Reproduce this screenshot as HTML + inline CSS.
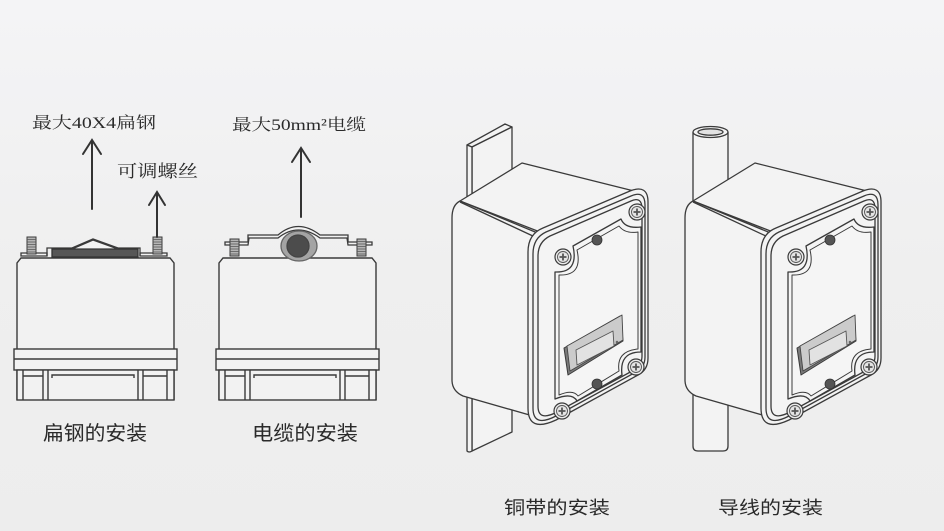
<!DOCTYPE html>
<html><head><meta charset="utf-8"><style>
html,body{margin:0;padding:0;}
body{width:944px;height:531px;overflow:hidden;background:#f0f0f0;}
svg{display:block;}
</style></head><body>
<svg width="944" height="531" viewBox="0 0 944 531" xmlns="http://www.w3.org/2000/svg">
<defs>
<linearGradient id="bg" x1="0" y1="0" x2="0" y2="1">
<stop offset="0" stop-color="#f4f4f6"/><stop offset="0.5" stop-color="#efefef"/><stop offset="1" stop-color="#ededed"/>
</linearGradient>
<g id="devbody" fill="none" stroke="#3a3a3a" stroke-width="1.4">
<path d="M17,400 V263 L21,258 H170 L174,263 V400" fill="#f2f2f2"/>
<rect x="14" y="349" width="163" height="21" fill="#f2f2f2"/>
<line x1="14" y1="359" x2="177" y2="359"/>
<rect x="17" y="370" width="157" height="30" fill="#f2f2f2"/>
<path d="M23,370 V400 M43,370 V400 M48,370 V400 M138,370 V400 M143,370 V400 M167,370 V400"/>
<path d="M23,376 H43 M143,376 H167"/>
<path d="M52,378 V375 H134 V378"/>
</g>
<g id="screwV">
<rect x="0" y="0" width="9" height="17" fill="#b5b5b5" stroke="#3a3a3a" stroke-width="1"/>
<path d="M0,2.5 H9 M0,5 H9 M0,7.5 H9 M0,10 H9 M0,12.5 H9 M0,15 H9" stroke="#555" stroke-width="0.8"/>
</g>
<g id="sc">
<circle r="8" fill="#ececec" stroke="#3a3a3a" stroke-width="1.2"/>
<circle r="5.5" fill="#e4e4e4" stroke="#555" stroke-width="0.9"/>
<path d="M-3.5,0 H3.5 M0,-3.5 V3.5" stroke="#555" stroke-width="1.8"/>
</g>
<g id="bx" stroke="#3a3a3a" stroke-width="1.3" stroke-linejoin="round">
<path d="M460,201 L522,163 L634,191 L540,232 Z" fill="#f3f3f3"/>
<path d="M460,201 Q452,205 452,218 V380 Q452,391 463,396 L540,418 L540,234 Z" fill="#f3f3f3"/>
<line x1="460" y1="202" x2="535" y2="237"/>
<path d="M528,252 Q528,234 543,228 L630,191 Q648,184 648,202 V358 Q648,370 638,375 L556,420 Q528,433 528,408 Z" fill="#f3f3f3"/>
<path d="M533,254 Q533,238 546,232 L631,196 Q645,190 645,205 V357 Q645,367 636,372 L556,416 Q533,428 533,408 Z" fill="#f3f3f3"/>
<path d="M538,256 Q538,242 550,236 L631,201 Q642,196 642,209 V356 Q642,365 634,370 L557,412 Q538,422 538,406 Z" fill="#f4f4f4"/>
<path d="M555,272 Q579,273 573,246 L621,219 Q625,229 641,227 L641,352 Q619,352 622,375 L577,401 Q572,392 555,399 Z" fill="#f5f5f5"/>
<path d="M559,275 Q583,276 577,250 L619,226 Q625,234 638,232 L638,349 Q616,351 619,371 L578,396 Q573,389 559,395 Z" fill="none" stroke-width="1"/>
<circle cx="597" cy="240" r="5" fill="#555" stroke="#333" stroke-width="0.8"/>
<circle cx="597" cy="384" r="5" fill="#555" stroke="#333" stroke-width="0.8"/>
<polygon points="564,348 620,316 623,341 568,375" fill="#7a7a7a" stroke="#3a3a3a" stroke-width="1"/>
<polygon points="567,346 622,315 623,340 570,371" fill="#cbcbcb" stroke="#444" stroke-width="0.9"/>
<polygon points="576,350 613,331 614,346 577,365" fill="#e2e2e2" stroke="#555" stroke-width="0.9"/>
<circle cx="617" cy="342" r="1.3" fill="#666" stroke="none"/>
<use href="#sc" transform="translate(563,257)"/>
<use href="#sc" transform="translate(637,212)"/>
<use href="#sc" transform="translate(636,367)"/>
<use href="#sc" transform="translate(562,411)"/>
</g>
</defs>
<rect width="944" height="531" fill="url(#bg)"/>

<!-- Device 1: flat steel -->
<use href="#devbody"/>
<g stroke="#3a3a3a" stroke-width="1.3" fill="none">
<path d="M21,253 H47 V256 H21 Z" fill="#f2f2f2"/>
<path d="M140,253 H167 V256 H140 Z" fill="#f2f2f2"/>
<path d="M47,256 V248 H72 L93,239 L118,248 H140 V256"/>
<rect x="52" y="249" width="86" height="8" fill="#565656" stroke="#333"/>
<path d="M72,249 L93,240 L118,249 Z" fill="#f2f2f2"/>
</g>
<use href="#screwV" transform="translate(27,237)"/>
<use href="#screwV" transform="translate(153,237)"/>

<!-- Device 2: cable -->
<use href="#devbody" transform="translate(202,0)"/>
<g stroke="#3a3a3a" stroke-width="1.3" fill="none">
<path d="M225,242 H248 V235 H278 Q298,218 320,235 H348 V242 H372 V245 H348 L347,238 H320 Q298,222 278,238 H249 L248,245 H225 Z" fill="#f2f2f2"/>
<ellipse cx="299" cy="246" rx="18" ry="15" fill="#a4a4a4" stroke="#666"/>
<circle cx="298" cy="246" r="11" fill="#4c4c4c" stroke="#444"/>
</g>
<use href="#screwV" transform="translate(230,239)"/>
<use href="#screwV" transform="translate(357,239)"/>

<!-- Arrows -->
<g stroke="#333" stroke-width="2" fill="none" stroke-linecap="round" stroke-linejoin="miter">
<line x1="92" y1="141" x2="92" y2="209"/>
<polyline points="83,154 92,140 101,154"/>
<line x1="157" y1="193" x2="157" y2="237"/>
<polyline points="149,205 157,192 165,205"/>
<line x1="301" y1="149" x2="301" y2="217"/>
<polyline points="292,162 301,148 310,162"/>
</g>

<!-- Copper strip -->
<g stroke="#3a3a3a" stroke-width="1.3" fill="#f3f3f3" stroke-linejoin="round">
<polygon points="467,145 505,124 512,127 472,147"/>
<path d="M472,147 L512,127 V432 L472,451 Z"/>
<path d="M467,145 L472,147 V451 Q469,453 467,451 Z"/>
</g>
<use href="#bx"/>

<!-- Pipe -->
<g stroke="#3a3a3a" stroke-width="1.3" fill="#f3f3f3">
<path d="M693,132 V446 Q693,451 698,451 H723 Q728,451 728,446 V132"/>
<ellipse cx="710.5" cy="132" rx="17.5" ry="5.5"/>
<ellipse cx="710.5" cy="132" rx="12.5" ry="3.2" fill="#e2e2e2"/>
</g>
<use href="#bx" transform="translate(233,0)"/>

<!-- Labels -->
<g fill="#2a2a2a">
<text x="32" y="128" font-size="16" textLength="124" lengthAdjust="spacingAndGlyphs" font-family="'Liberation Serif','Noto Serif CJK SC',serif">最大40X4扁钢</text>
<text x="117" y="177" font-size="17" textLength="81" lengthAdjust="spacingAndGlyphs" font-family="'Liberation Serif','Noto Serif CJK SC',serif">可调螺丝</text>
<text x="232" y="130" font-size="16" textLength="134" lengthAdjust="spacingAndGlyphs" font-family="'Liberation Serif','Noto Serif CJK SC',serif">最大50mm²电缆</text>
<text x="43" y="440" font-size="20" textLength="104" lengthAdjust="spacingAndGlyphs" font-family="'Liberation Sans','Noto Sans CJK SC',sans-serif">扁钢的安装</text>
<text x="252" y="440" font-size="20" textLength="106" lengthAdjust="spacingAndGlyphs" font-family="'Liberation Sans','Noto Sans CJK SC',sans-serif">电缆的安装</text>
<text x="504" y="514" font-size="18" textLength="106" lengthAdjust="spacingAndGlyphs" font-family="'Liberation Sans','Noto Sans CJK SC',sans-serif">铜带的安装</text>
<text x="718" y="514" font-size="18" textLength="105" lengthAdjust="spacingAndGlyphs" font-family="'Liberation Sans','Noto Sans CJK SC',sans-serif">导线的安装</text>
</g>
</svg>
</body></html>
